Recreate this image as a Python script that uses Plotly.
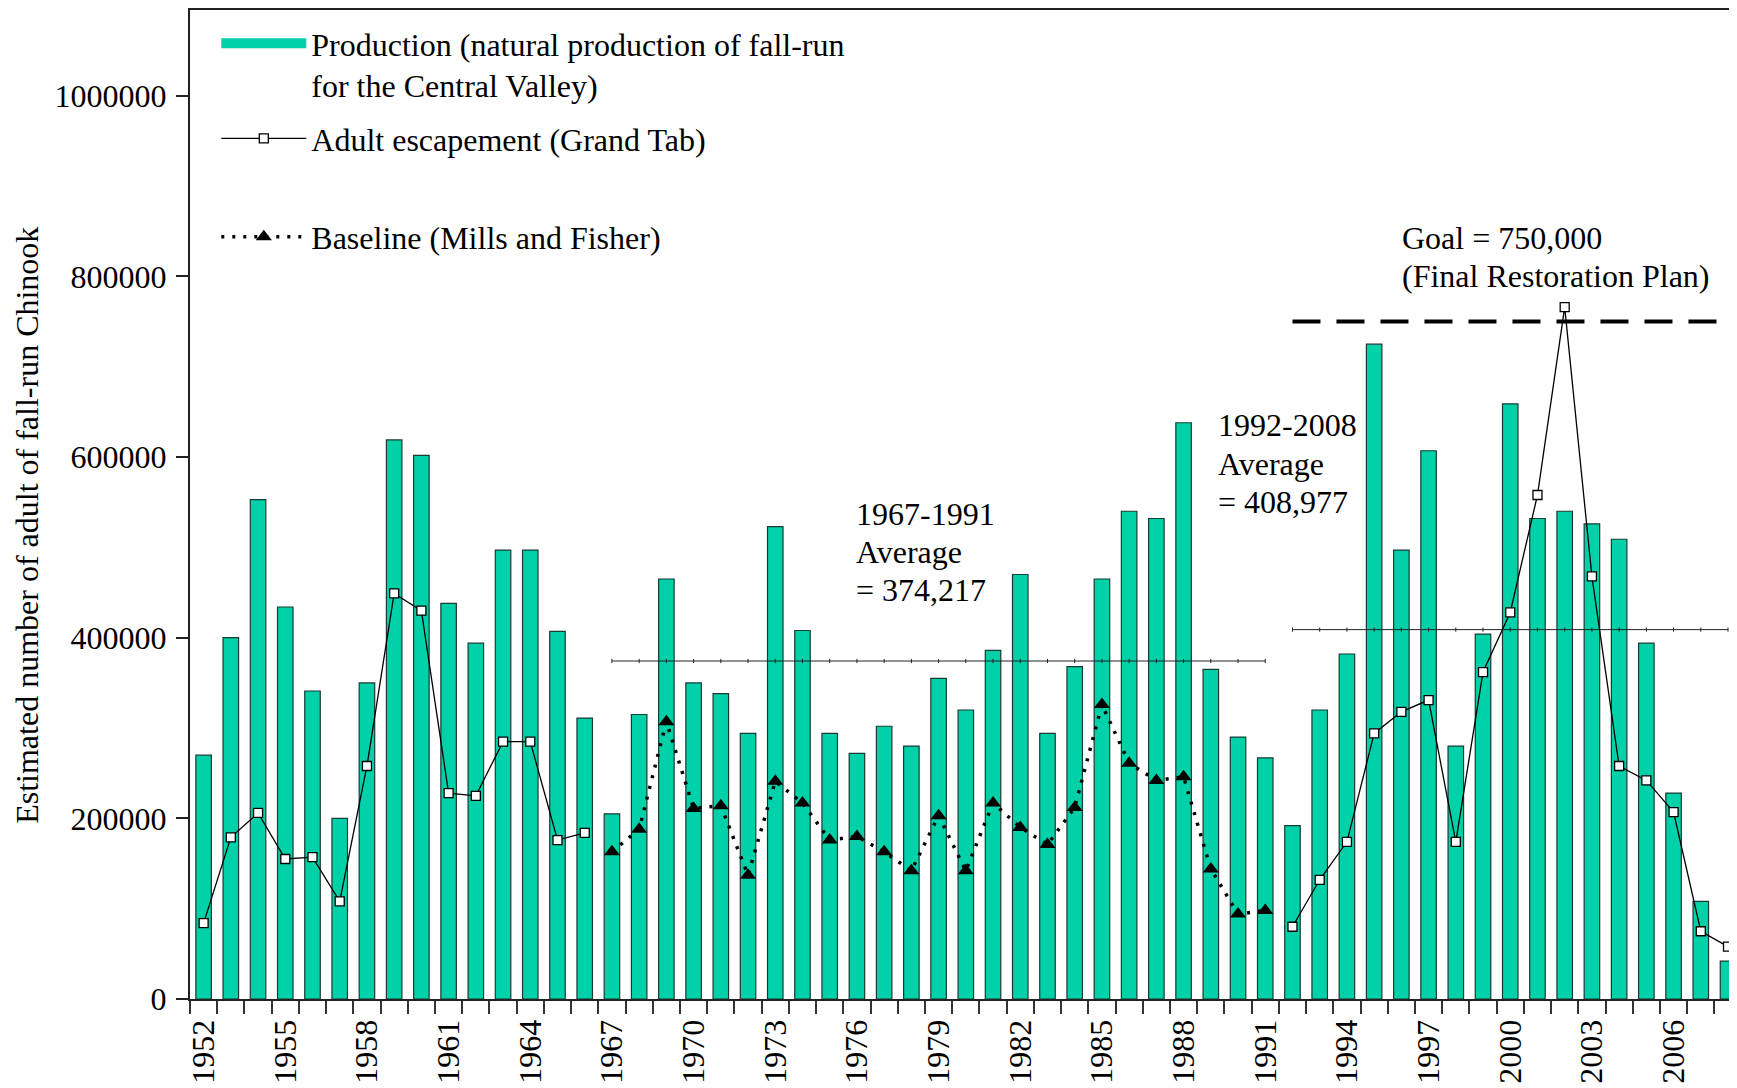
import plotly.graph_objects as go

years = list(range(1952, 2009))

production = [270000, 400000, 553000, 434000, 341000, 200000, 350000, 619000, 602000, 438000,
              394000, 497000, 497000, 407000, 311000, 205000, 315000, 465000, 350000, 338000,
              294000, 523000, 408000, 294000, 272000, 302000, 280000, 355000, 320000, 386000,
              470000, 294000, 368000, 465000, 540000, 532000, 638000, 365000, 290000, 267000,
              192000, 320000, 382000, 725000, 497000, 607000, 280000, 404000, 659000, 532000,
              540000, 526000, 509000, 394000, 228000, 108000, 42000]

escapement_early_years = list(range(1952, 1967))
escapement_early = [84000, 179000, 206000, 155000, 157000, 108000, 258000, 449000, 430000, 228000,
                    225000, 285000, 285000, 176000, 184000]
escapement_late_years = list(range(1992, 2009))
escapement_late = [80000, 132000, 174000, 294000, 318000, 331000, 174000, 362000, 428000, 558000,
                   766000, 468000, 258000, 242000, 207000, 75000, 58000]

baseline_years = list(range(1967, 1992))
baseline = [163000, 188000, 307000, 211000, 214000, 137000, 241000, 217000, 176000, 180000,
            163000, 142000, 203000, 142000, 217000, 190000, 171000, 212000, 326000, 261000,
            242000, 246000, 144000, 94000, 98000]

avg_1967_1991 = 374217
avg_1992_2008 = 408977
goal = 750000
goal_years = [1992, 2008]

label_early = ["1967-1991", "Average", "= 374,217"]
label_late = ["1992-2008", "Average", "= 408,977"]
label_goal = ["Goal = 750,000", "(Final Restoration Plan)"]

esc_x = escapement_early_years + [1979] + escapement_late_years
esc_y = escapement_early + [None] + escapement_late

FONT = "Liberation Serif, Times New Roman, serif"
FS = 32
BAR_COLOR = "rgb(0,209,168)"
PROD_NAME = "Production (natural production of fall-run<br>for the Central Valley)"

fig = go.Figure()

fig.add_trace(go.Bar(
    x=years, y=production, width=0.57,
    marker=dict(color=BAR_COLOR, line=dict(color="#1a3a33", width=1.2)),
    name=PROD_NAME, showlegend=False,
))
# legend entry for production (wide filled swatch like the original)
fig.add_trace(go.Scatter(
    x=[None], y=[None], mode="lines", line=dict(color=BAR_COLOR, width=14),
    name=PROD_NAME, legendgroup="a", hoverinfo="skip",
))

fig.add_trace(go.Scatter(
    x=baseline_years, y=[avg_1967_1991] * len(baseline_years), mode="lines+markers",
    line=dict(color="#222", width=1),
    marker=dict(symbol="line-ns-open", size=3, line=dict(color="#555", width=1)),
    showlegend=False, hoverinfo="skip",
))
fig.add_trace(go.Scatter(
    x=escapement_late_years, y=[avg_1992_2008] * len(escapement_late_years), mode="lines+markers",
    line=dict(color="#222", width=1),
    marker=dict(symbol="line-ns-open", size=3, line=dict(color="#555", width=1)),
    showlegend=False, hoverinfo="skip",
))
fig.add_trace(go.Scatter(
    x=goal_years, y=[goal, goal], mode="lines",
    line=dict(color="black", width=4, dash="28px,16px"),
    showlegend=False, hoverinfo="skip",
))

fig.add_trace(go.Scatter(
    x=esc_x, y=esc_y, mode="lines+markers", connectgaps=False,
    line=dict(color="black", width=1.3),
    marker=dict(symbol="square", size=9, color="white", line=dict(color="black", width=1.3)),
    name="Adult escapement (Grand Tab)", legendgroup="b",
))

fig.add_trace(go.Scatter(
    x=[None], y=[None], mode="lines", line=dict(color="rgba(0,0,0,0)", width=0),
    name=" ", legendgroup="b", hoverinfo="skip",
))

fig.add_trace(go.Scatter(
    x=baseline_years, y=baseline, mode="lines+markers",
    line=dict(color="black", width=3.5, dash="3px,8px"),
    marker=dict(symbol="triangle-up", size=14, color="black"),
    name="Baseline (Mills and Fisher)", legendgroup="c",
))


def add_text_block(lines, x, y_first, step):
    for i, t in enumerate(lines):
        fig.add_annotation(x=x, y=y_first - i * step, xref="x", yref="y",
                           xanchor="left", yanchor="middle", align="left", showarrow=False,
                           text=t, font=dict(family=FONT, size=FS, color="black"))


add_text_block(label_early, 1975.9, 537000, 42300)
add_text_block(label_late, 1989.2, 635000, 42300)
add_text_block(label_goal, 1995.95, 843000, 42700)

fig.add_annotation(x=-0.105, y=0.479, xref="paper", yref="paper", textangle=-90, showarrow=False,
                   xanchor="center", yanchor="middle",
                   text="Estimated number of adult of fall-run Chinook",
                   font=dict(family=FONT, size=FS, color="black"))

fig.update_layout(
    width=1729, height=1080,
    margin=dict(l=182, r=0, t=0, b=89),
    paper_bgcolor="white", plot_bgcolor="white",
    font=dict(family=FONT, size=FS, color="black"),
    showlegend=True,
    legend=dict(x=0.017, y=0.994, xanchor="left", yanchor="top", bgcolor="rgba(0,0,0,0)",
                font=dict(family=FONT, size=FS, color="black"), itemwidth=85, valign="top",
                traceorder="grouped", tracegroupgap=9),
    bargap=0.4,
)

fig.update_xaxes(
    range=[1951.5, 2008.33], tickmode="linear", tick0=1952, dtick=3,
    tickangle=-90, ticks="", showline=True, linecolor="#222", linewidth=2, mirror=True,
    showgrid=False, zeroline=False, ticklabelstandoff=6,
    minor=dict(tick0=1951.5, dtick=1, ticks="outside", ticklen=13, tickcolor="#333", tickwidth=1.5, showgrid=False),
    tickfont=dict(family=FONT, size=FS, color="black"),
)
fig.update_yaxes(
    range=[0, 1095000], tickmode="linear", tick0=0, dtick=200000,
    ticks="outside", ticklen=12, tickcolor="#222", tickwidth=1.5,
    showline=True, linecolor="#222", linewidth=2, mirror=False,
    showgrid=False, zeroline=False, ticklabelstandoff=3,
    tickformat="d",
    tickfont=dict(family=FONT, size=FS, color="black"),
)

fig.write_html("out.html")
